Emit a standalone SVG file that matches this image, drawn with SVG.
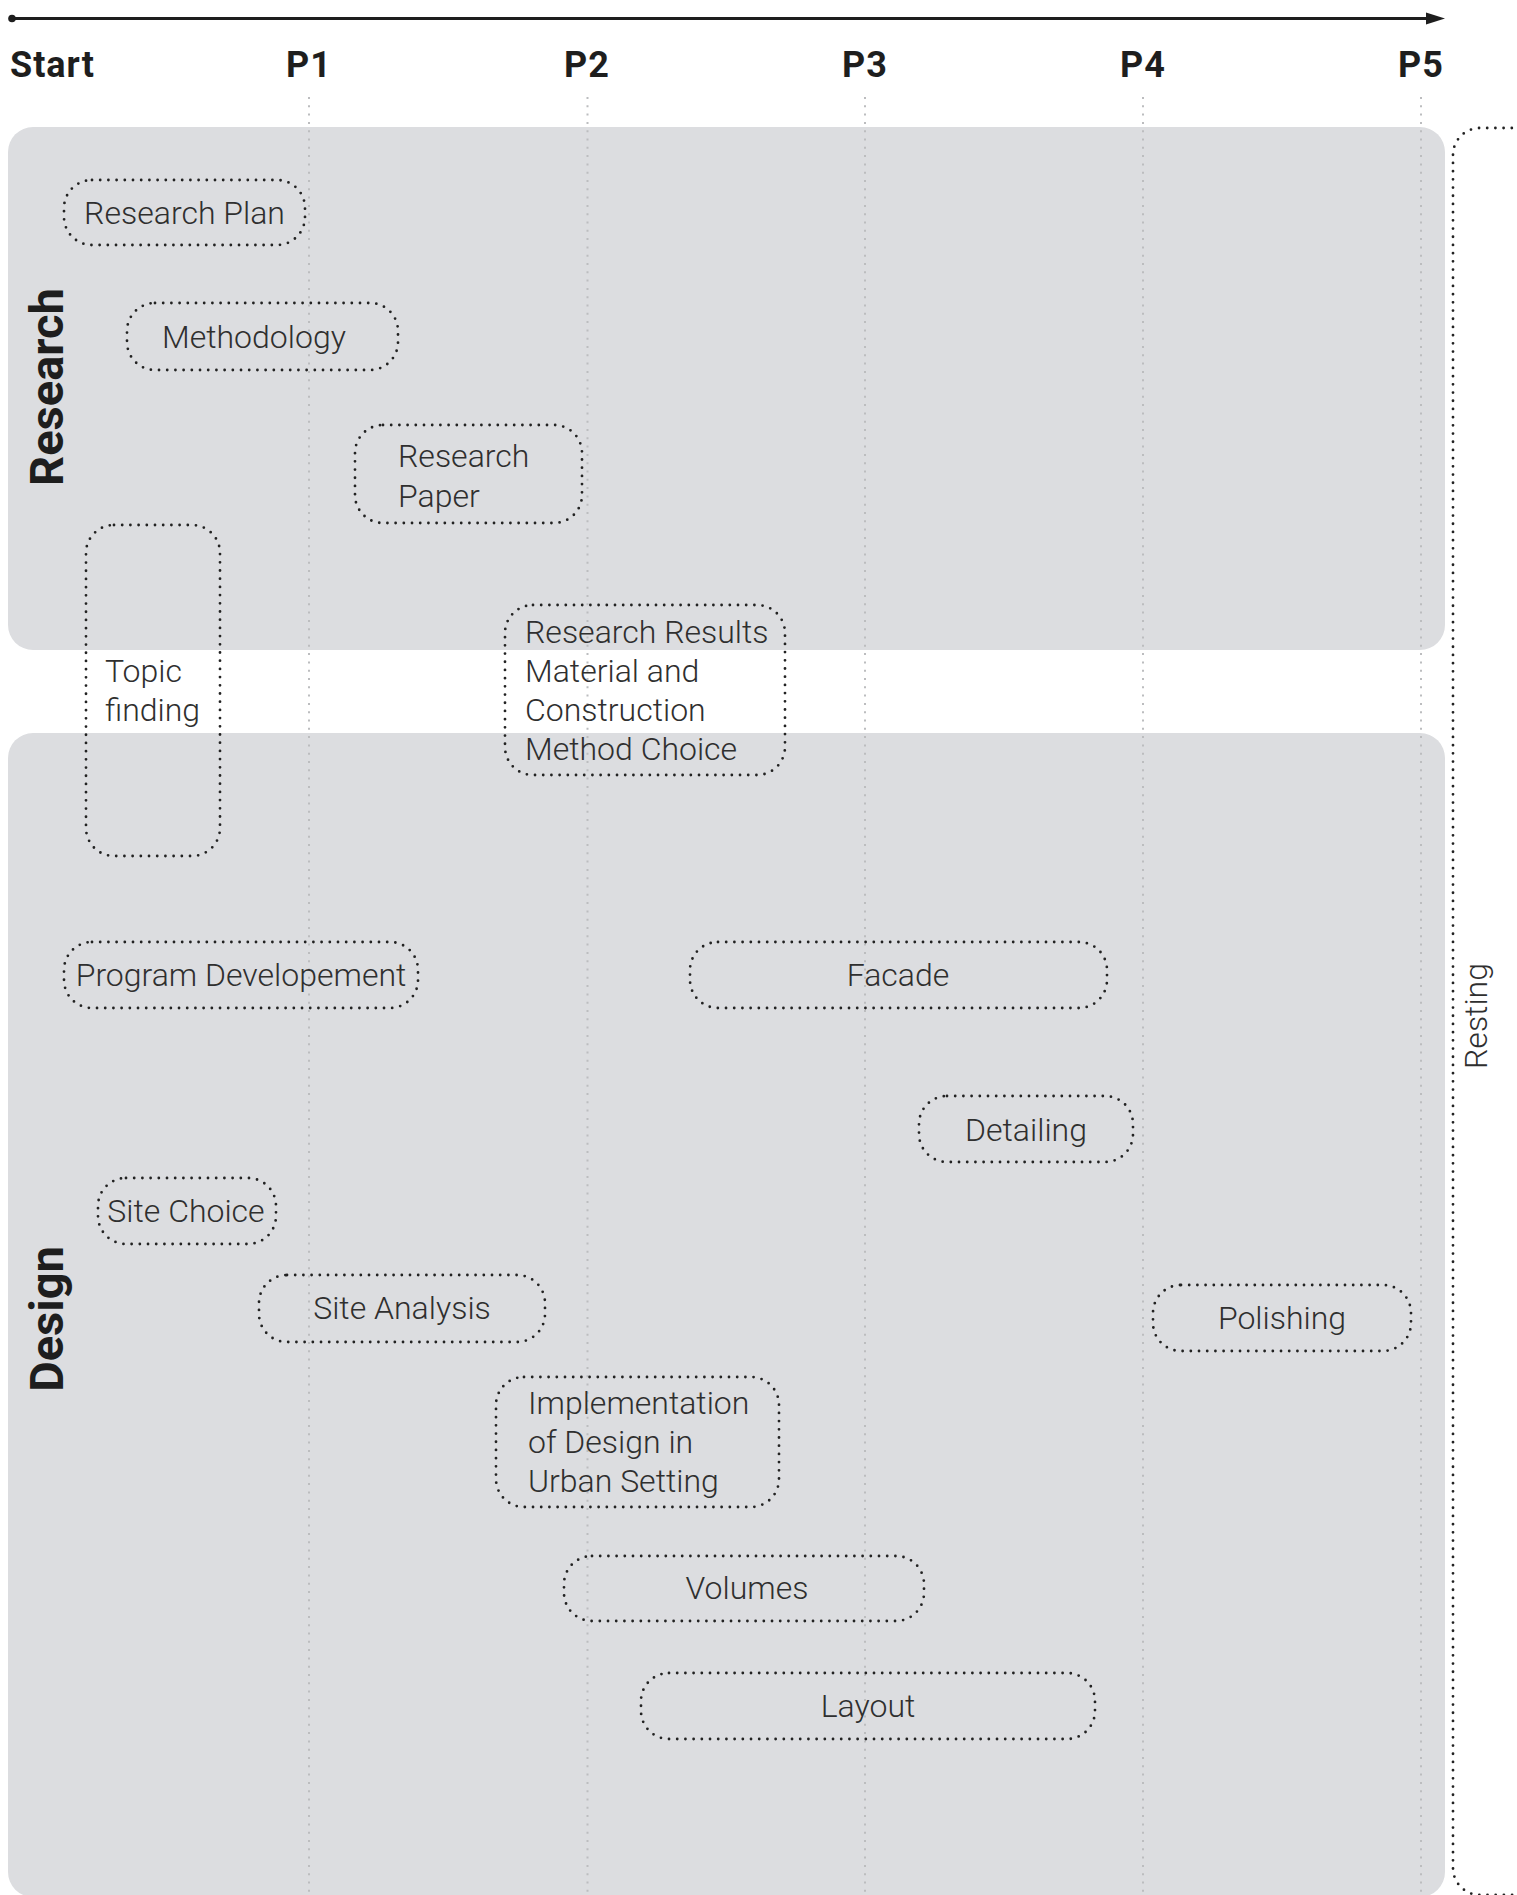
<svg xmlns="http://www.w3.org/2000/svg" width="1517" height="1895" viewBox="0 0 1517 1895">
  <style>
    .panel { fill: #dcdde0; }
    .guide { stroke: #bcbdbf; stroke-width: 2; stroke-dasharray: 2 6.3; fill: none; }
    .box { fill: none; stroke: #222; stroke-width: 2.8; stroke-linecap: round; stroke-dasharray: 0 8.2; }
    .lbl { font-family: Roboto, "Liberation Sans", sans-serif; font-weight: 300; font-size: 32px; fill: #2f2f2f; }
    .mid { text-anchor: middle; }
    .phase { font-family: Roboto, "Liberation Sans", sans-serif; font-weight: 700; font-size: 36px; fill: #1e1e1e; letter-spacing: 1px; }
    .lane { font-family: Roboto, "Liberation Sans", sans-serif; font-weight: 700; font-size: 47px; fill: #1e1e1e; text-anchor: middle; }
  </style>

  <rect width="1517" height="1895" fill="#ffffff"/>

  <!-- timeline axis -->
  <g id="axis">
    <line x1="12" y1="18.5" x2="1430" y2="18.5" stroke="#1e1e1e" stroke-width="2.8"/>
    <circle cx="12" cy="18.5" r="3.8" fill="#1e1e1e"/>
    <polygon points="1426,12.5 1445,18.5 1426,24.5" fill="#1e1e1e"/>
    <text class="phase" x="10" y="77">Start</text>
    <text class="phase mid" x="309" y="77">P1</text>
    <text class="phase mid" x="587" y="77">P2</text>
    <text class="phase mid" x="865" y="77">P3</text>
    <text class="phase mid" x="1143" y="77">P4</text>
    <text class="phase mid" x="1421" y="77">P5</text>
  </g>

  <!-- lanes -->
  <g id="lane-research">
    <rect class="panel" x="8" y="127" width="1437" height="523" rx="25"/>
    <text class="lane" transform="translate(63,387) rotate(-90)">Research</text>
  </g>
  <g id="lane-design">
    <rect class="panel" x="8" y="733" width="1437" height="1164" rx="25"/>
    <text class="lane" transform="translate(63,1319) rotate(-90)">Design</text>
  </g>

  <!-- phase guide lines -->
  <g id="guides">
    <line class="guide" x1="309" y1="97" x2="309" y2="1895"/>
    <line class="guide" x1="587.5" y1="97" x2="587.5" y2="1895"/>
    <line class="guide" x1="865" y1="97" x2="865" y2="1895"/>
    <line class="guide" x1="1143" y1="97" x2="1143" y2="1895"/>
    <line class="guide" x1="1421" y1="97" x2="1421" y2="1895"/>
  </g>

  <!-- resting bracket -->
  <g id="resting">
    <path class="box" d="M1520 128 H1480 A27 27 0 0 0 1453 155 V1868 A27 27 0 0 0 1480 1895 H1520"/>
    <text class="lbl mid" transform="translate(1487,1016) rotate(-90)">Resting</text>
  </g>

  <!-- tasks -->
  <g id="research-plan">
    <rect class="box" x="64" y="180" width="241" height="65" rx="28"/>
    <text class="lbl mid" x="184.5" y="224">Research Plan</text>
  </g>
  <g id="methodology">
    <rect class="box" x="127" y="303" width="271" height="67" rx="28"/>
    <text class="lbl" x="162" y="348">Methodology</text>
  </g>
  <g id="research-paper">
    <rect class="box" x="355" y="425" width="227" height="98" rx="28"/>
    <text class="lbl" x="398" y="467">Research</text>
    <text class="lbl" x="398" y="507">Paper</text>
  </g>
  <g id="topic-finding">
    <rect class="box" x="86" y="525" width="134" height="331" rx="28"/>
    <text class="lbl" x="105" y="682">Topic</text>
    <text class="lbl" x="105" y="721">finding</text>
  </g>
  <g id="research-results">
    <rect class="box" x="505" y="605" width="280" height="170" rx="28"/>
    <text class="lbl" x="525" y="643">Research Results</text>
    <text class="lbl" x="525" y="682">Material and</text>
    <text class="lbl" x="525" y="721">Construction</text>
    <text class="lbl" x="525" y="760">Method Choice</text>
  </g>
  <g id="program-development">
    <rect class="box" x="64" y="942" width="354" height="66" rx="28"/>
    <text class="lbl mid" x="241" y="986">Program Developement</text>
  </g>
  <g id="facade">
    <rect class="box" x="690" y="942" width="417" height="66" rx="28"/>
    <text class="lbl mid" x="898" y="986">Facade</text>
  </g>
  <g id="detailing">
    <rect class="box" x="919" y="1096" width="214" height="66" rx="28"/>
    <text class="lbl mid" x="1026" y="1141">Detailing</text>
  </g>
  <g id="site-choice">
    <rect class="box" x="98" y="1178" width="178" height="66" rx="28"/>
    <text class="lbl mid" x="186" y="1222">Site Choice</text>
  </g>
  <g id="site-analysis">
    <rect class="box" x="259" y="1275" width="286" height="67" rx="28"/>
    <text class="lbl mid" x="402" y="1319">Site Analysis</text>
  </g>
  <g id="polishing">
    <rect class="box" x="1153" y="1285" width="258" height="66" rx="28"/>
    <text class="lbl mid" x="1282" y="1329">Polishing</text>
  </g>
  <g id="implementation">
    <rect class="box" x="496" y="1377" width="283" height="130" rx="28"/>
    <text class="lbl" x="528" y="1414">Implementation</text>
    <text class="lbl" x="528" y="1453">of Design in</text>
    <text class="lbl" x="528" y="1492">Urban Setting</text>
  </g>
  <g id="volumes">
    <rect class="box" x="564" y="1556" width="360" height="65" rx="28"/>
    <text class="lbl mid" x="747" y="1599">Volumes</text>
  </g>
  <g id="layout">
    <rect class="box" x="641" y="1673" width="454" height="66" rx="28"/>
    <text class="lbl mid" x="868" y="1717">Layout</text>
  </g>
</svg>
